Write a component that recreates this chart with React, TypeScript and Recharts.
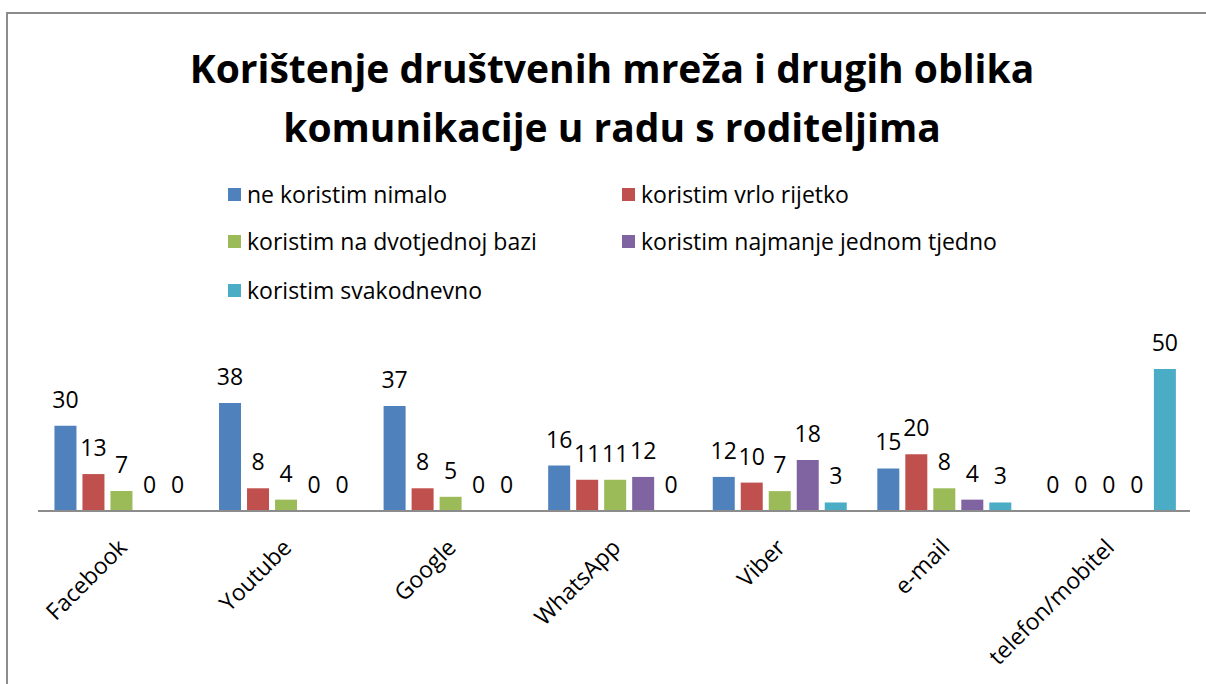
import React from "react";
import { BarChart, Bar, XAxis, YAxis, LabelList } from "recharts";

const categories = ["Facebook", "Youtube", "Google", "WhatsApp", "Viber", "e-mail", "telefon/mobitel"];
const neKoristim = [30, 38, 37, 16, 12, 15, 0];
const vrloRijetko = [13, 8, 8, 11, 10, 20, 0];
const dvotjedno = [7, 4, 5, 11, 7, 8, 0];
const tjedno = [0, 0, 0, 12, 18, 4, 0];
const svakodnevno = [0, 0, 0, 0, 3, 3, 50];

const seriesNames = [
  "ne koristim nimalo",
  "koristim vrlo rijetko",
  "koristim na dvotjednoj bazi",
  "koristim najmanje jednom tjedno",
  "koristim svakodnevno",
];
const colors = ["#4F81BD", "#C0504D", "#9BBB59", "#8064A2", "#4BACC6"];

const data = categories.map((c, i) => ({
  name: c,
  s0: neKoristim[i],
  s1: vrloRijetko[i],
  s2: dvotjedno[i],
  s3: tjedno[i],
  s4: svakodnevno[i],
}));

const FONT = "'Open Sans', 'Noto Sans', sans-serif";

function Tick(props: any) {
  const { x, y, payload } = props;
  return (
    <g transform={`translate(${x + 8},${y + 30}) rotate(-45)`}>
      <text x={0} y={0} textAnchor="end" fontSize={23} fontFamily={FONT} fill="#000">
        {payload.value}
      </text>
    </g>
  );
}

// value label drawn for every bar, zeros included
function ValueLabel(props: any) {
  const { x, y, width, value } = props;
  return (
    <text x={x + width / 2} y={y - 18} textAnchor="middle" fontSize={23} fontFamily={FONT} fill="#000">
      {value}
    </text>
  );
}

// legend positions: two columns, three rows
const legendPos = [
  { x: 228, y: 194 },
  { x: 622, y: 194 },
  { x: 228, y: 241 },
  { x: 622, y: 241 },
  { x: 228, y: 290 },
];

export default function App() {
  return (
    <div style={{ position: "absolute", left: 0, top: 0, width: 1206, height: 684, background: "#fff", overflow: "hidden", fontFamily: FONT }}>
      <div style={{ position: "absolute", left: 6, top: 12, width: 1300, height: 800, border: "2px solid #8c8c8c", boxSizing: "border-box" }} />
      <div style={{ position: "absolute", left: 0, top: 38, width: 1224, textAlign: "center", fontWeight: 700, fontSize: 39, lineHeight: "59px", color: "#000" }}>
        Korištenje društvenih mreža i drugih oblika
        <br />
        komunikacije u radu s roditeljima
      </div>
      {seriesNames.map((n, i) => (
        <div key={n} style={{ position: "absolute", left: legendPos[i].x, top: legendPos[i].y - 15, height: 30, display: "flex", alignItems: "center", fontSize: 23, color: "#000", whiteSpace: "nowrap" }}>
          <span style={{ display: "inline-block", width: 13, height: 13, background: colors[i], marginRight: 6 }} />
          {n}
        </div>
      ))}
      <div style={{ position: "absolute", left: 0, top: 0 }}>
        <BarChart width={1206} height={684} data={data} margin={{ top: 369, right: 16, left: 38, bottom: 23 }} barCategoryGap="10%" barGap={6}>
          <XAxis dataKey="name" height={150} tickLine={false} axisLine={{ stroke: "#8c8c8c", strokeWidth: 2 }} tick={<Tick />} interval={0} />
          <YAxis hide domain={[0, 50]} />
          {colors.map((c, i) => (
            <Bar key={i} dataKey={`s${i}`} fill={c} minPointSize={0.01} isAnimationActive={false}>
              <LabelList dataKey={`s${i}`} content={<ValueLabel />} />
            </Bar>
          ))}
        </BarChart>
      </div>
    </div>
  );
}
